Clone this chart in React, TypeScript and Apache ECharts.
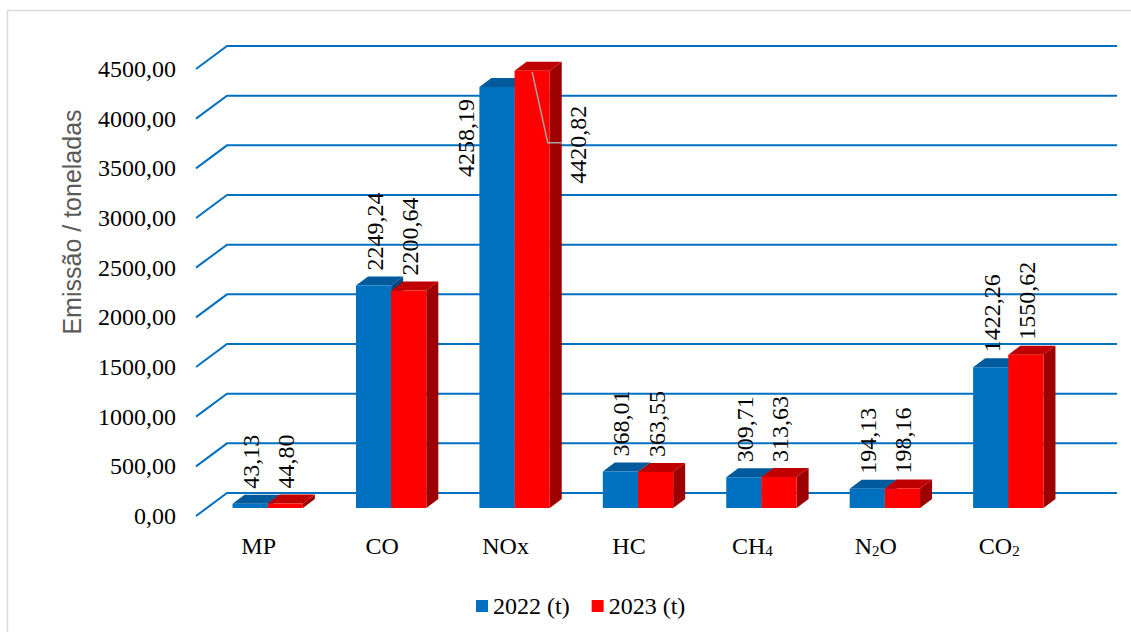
import React, { useEffect, useRef } from "react";
import * as echarts from "echarts";

const categories = ["MP", "CO", "NOx", "HC", "CH₄", "N₂O", "CO₂"];
const values2022 = [43.13, 2249.24, 4258.19, 368.01, 309.71, 194.13, 1422.26];
const values2023 = [44.8, 2200.64, 4420.82, 363.55, 313.63, 198.16, 1550.62];
const yTicks = [0, 500, 1000, 1500, 2000, 2500, 3000, 3500, 4000, 4500];
const seriesNames = ["2022 (t)", "2023 (t)"];
const axisTitle = "Emissão / toneladas";

const fmt = (v: number) => v.toFixed(2).replace(".", ",");

const palettes = [
  { front: "#0070C0", top: "#005A9C", side: "#004A80" },
  { front: "#FF0000", top: "#C00000", side: "#9C0000" },
];

const SERIF = "Liberation Serif";
const LABEL_FONT = "24px 'Liberation Serif', serif";

const subMap: Record<string, string> = { "₀": "0", "₁": "1", "₂": "2", "₃": "3", "₄": "4" };
const catFormatter = (s: string) => {
  const parts: string[] = [];
  let buf = "";
  for (const ch of s.split("")) {
    if (subMap[ch]) {
      if (buf) parts.push(`{main|${buf}}`);
      buf = "";
      parts.push(`{sub|${subMap[ch]}}`);
    } else {
      buf += ch;
    }
  }
  if (buf) parts.push(`{main|${buf}}`);
  return parts.join("");
};

function labelStyle(text: string, align: string) {
  return {
    text,
    align,
    verticalAlign: "middle",
    font: LABEL_FONT,
    fontSize: 24,
    fontFamily: SERIF,
    fill: "#000",
  };
}

function makeBarRender(idx: number) {
  const pal = palettes[idx];
  return (params: any, api: any) => {
    const i = api.value(0);
    const v = api.value(1);
    const top = api.coord([i, v]);
    const base = api.coord([i, 0]);
    const band = api.size([1, 0])[0];
    const w = band * 0.285;
    const cx = top[0];
    const yTop = top[1];
    const yBase = base[1];
    const x0 = idx === 0 ? cx - w : cx;
    const x1 = x0 + w;
    const dx = 12;
    const dy = -9;
    const text = fmt(v);
    const textLen = text.length * 12 - 6;
    const children: any[] = [
      {
        type: "polygon",
        shape: { points: [[x1, yTop], [x1 + dx, yTop + dy], [x1 + dx, yBase + dy], [x1, yBase]] },
        style: { fill: pal.side },
      },
      {
        type: "polygon",
        shape: { points: [[x0, yTop], [x1, yTop], [x1 + dx, yTop + dy], [x0 + dx, yTop + dy]] },
        style: { fill: pal.top },
      },
      {
        type: "rect",
        shape: { x: x0, y: yTop, width: w, height: yBase - yTop },
        style: { fill: pal.front },
      },
    ];
    const overflow = yTop - 15 - textLen < 20;
    if (!overflow) {
      children.push({
        type: "text",
        x: x0 + w / 2 + 1,
        y: yTop - 15,
        rotation: Math.PI / 2,
        style: labelStyle(text, "left"),
      });
    } else if (idx === 0) {
      children.push({
        type: "text",
        x: x0 - 13,
        y: yTop + 51,
        rotation: Math.PI / 2,
        style: labelStyle(text, "center"),
      });
    } else {
      children.push({
        type: "polyline",
        shape: { points: [[x0 + w / 2, yTop + 1], [x1 - 2, yTop + 72], [x1 + 12, yTop + 72]] },
        style: { stroke: "#A6A6A6", lineWidth: 1.5, fill: "none" },
      });
      children.push({
        type: "text",
        x: x1 + 28,
        y: yTop + 74,
        rotation: Math.PI / 2,
        style: labelStyle(text, "center"),
      });
    }
    return { type: "group", children };
  };
}

const gridRender = (params: any, api: any) => {
  const v = api.value(0);
  const l = api.coord([0, v]);
  const r = api.coord([1, v]);
  return {
    type: "polyline",
    shape: { points: [[l[0] - 31, l[1] + 23], [l[0], l[1]], [r[0], r[1]]] },
    style: { stroke: "#0070C0", lineWidth: 2, fill: "none" },
  };
};

export default function App() {
  const ref = useRef<HTMLDivElement>(null);
  useEffect(() => {
    if (!ref.current) return;
    const chart = echarts.init(ref.current, undefined, { renderer: "svg" });
    const hidden = { show: false };
    chart.setOption({
      animation: false,
      backgroundColor: "#fff",
      grid: [
        { left: 206, right: 61, top: 63, bottom: 124 },
        { left: 227, right: 14, top: 46, bottom: 139 },
        { left: 196, right: 14, top: 69, bottom: 116 },
      ],
      xAxis: [
        {
          type: "category",
          gridIndex: 0,
          data: categories,
          axisLine: hidden,
          axisTick: hidden,
          splitLine: hidden,
          axisLabel: {
            interval: 0,
            hideOverlap: false,
            margin: 22,
            fontSize: 24,
            fontFamily: SERIF,
            color: "#000",
            padding: [0, 18, 0, 0],
            formatter: catFormatter,
            rich: {
              main: { fontSize: 24, fontFamily: SERIF, color: "#000", lineHeight: 28, verticalAlign: "bottom" },
              sub: { fontSize: 15, fontFamily: SERIF, color: "#000", lineHeight: 24, verticalAlign: "bottom" },
            },
          },
        },
        { type: "value", gridIndex: 1, min: 0, max: 1, show: false },
        { type: "value", gridIndex: 2, min: 0, max: 1, show: false },
      ],
      yAxis: [
        { type: "value", gridIndex: 0, min: 0, max: 4500, show: false },
        { type: "value", gridIndex: 1, min: 0, max: 4500, show: false },
        {
          type: "value",
          gridIndex: 2,
          min: 0,
          max: 4500,
          interval: 500,
          axisLine: hidden,
          axisTick: hidden,
          splitLine: hidden,
          axisLabel: {
            margin: 20,
            fontSize: 24,
            fontFamily: SERIF,
            color: "#000",
            formatter: (v: number) => fmt(v),
          },
        },
      ],
      legend: {
        left: 471,
        top: 589,
        itemWidth: 12,
        itemHeight: 12,
        itemGap: 22,
        icon: "rect",
        data: seriesNames,
        textStyle: { fontSize: 24, fontFamily: SERIF, color: "#000" },
      },
      graphic: [
        {
          type: "rect",
          z: -10,
          shape: { x: 7.5, y: 10.5, width: 1200, height: 700 },
          style: { fill: "none", stroke: "#D9D9D9", lineWidth: 1.5 },
        },
        {
          type: "text",
          x: 72,
          y: 222,
          rotation: Math.PI / 2,
          style: {
            text: axisTitle,
            align: "center",
            verticalAlign: "middle",
            font: "25px 'Liberation Sans', sans-serif",
            fontSize: 25,
            fontFamily: "Liberation Sans",
            fill: "#595959",
          },
        },
      ],
      series: [
        {
          type: "custom",
          name: "grid",
          xAxisIndex: 1,
          yAxisIndex: 1,
          z: 1,
          silent: true,
          data: yTicks.map((v) => [v]),
          encode: { y: 0 },
          renderItem: gridRender,
        },
        {
          type: "custom",
          name: seriesNames[0],
          xAxisIndex: 0,
          yAxisIndex: 0,
          z: 3,
          itemStyle: { color: palettes[0].front },
          data: values2022.map((v, i) => [i, v]),
          encode: { x: 0, y: 1 },
          renderItem: makeBarRender(0),
        },
        {
          type: "custom",
          name: seriesNames[1],
          xAxisIndex: 0,
          yAxisIndex: 0,
          z: 4,
          itemStyle: { color: palettes[1].front },
          data: values2023.map((v, i) => [i, v]),
          encode: { x: 0, y: 1 },
          renderItem: makeBarRender(1),
        },
      ],
    });
    return () => chart.dispose();
  }, []);
  return (
    <div
      ref={ref}
      style={{ position: "fixed", left: 0, top: 0, width: 1131, height: 632 }}
    />
  );
}
